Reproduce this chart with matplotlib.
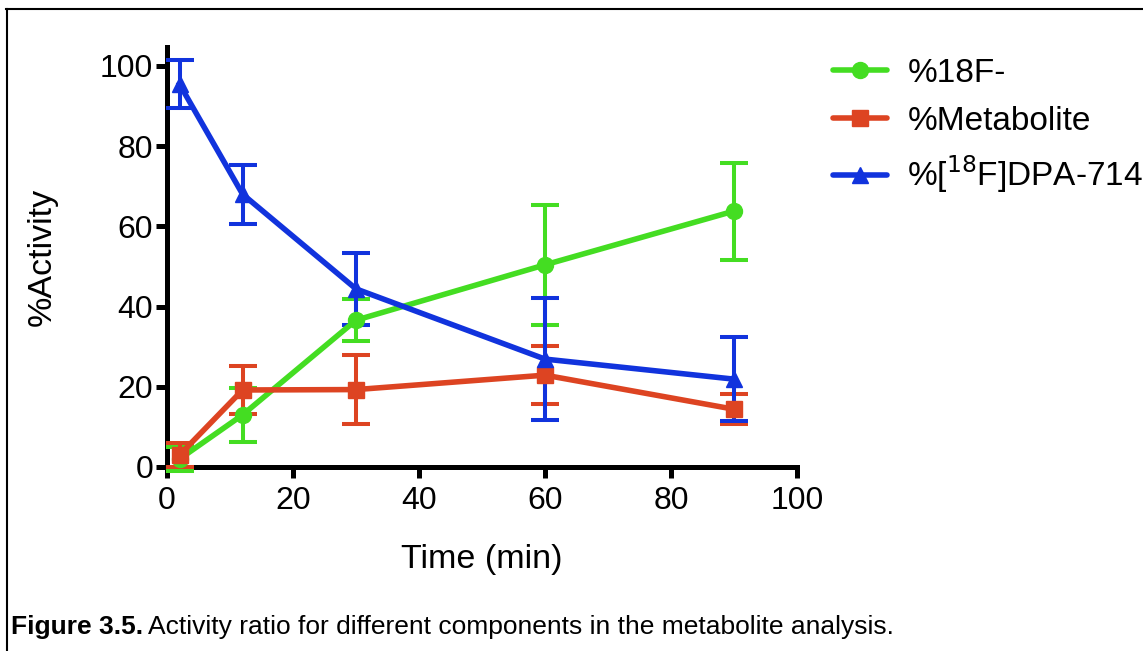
import numpy as np
import matplotlib.pyplot as plt
from matplotlib.lines import Line2D

plt.rcParams['font.family'] = ['Liberation Sans', 'DejaVu Sans']

# time points (min)
time = [2, 12, 30, 60, 90]

# %18F-
fluoride = [2.0, 13.0, 36.6, 50.4, 63.8]
fluoride_err = [3.0, 6.8, 5.3, 15.0, 12.1]

# %Metabolite
metabolite = [3.0, 19.2, 19.3, 22.9, 14.4]
metabolite_err = [3.0, 5.9, 8.7, 7.3, 3.7]

# %[18F]DPA-714
parent = [95.4, 68.0, 44.4, 26.9, 21.9]
parent_err = [6.0, 7.4, 9.0, 15.2, 10.4]

series = [
    ('%18F-', fluoride, fluoride_err, '#44dd22', 'o', 11.5),
    ('%Metabolite', metabolite, metabolite_err, '#dd4422', 's', 11),
    ('%[$^{18}$F]DPA-714', parent, parent_err, '#1133dd', '^', 12),
]

W, H = 1143, 651
fig = plt.figure(figsize=(W / 100, H / 100), dpi=100)
ax = fig.add_axes([167 / W, 1 - 467 / H, 630 / W, 420 / H])

handles = []
for label, y, err, color, marker, ms in series:
    ax.errorbar(time, y, yerr=err, color=color, marker=marker, markersize=ms,
                linewidth=4, elinewidth=2.9, capsize=10, capthick=2.9,
                clip_on=False, zorder=3)
    handles.append(Line2D([], [], color=color, marker=marker, markersize=ms,
                          linewidth=4, solid_capstyle='round', label=label))

ax.set_xlim(0, 100)
ax.set_ylim(0, 104.7)
ax.set_xticks([0, 20, 40, 60, 80, 100])
ax.set_yticks([0, 20, 40, 60, 80, 100])
for side in ['top', 'right']:
    ax.spines[side].set_visible(False)
for side in ['left', 'bottom']:
    ax.spines[side].set_linewidth(3.6)
ax.tick_params(width=3.6, length=8, labelsize=23)
ax.tick_params(axis='x', pad=6)
ax.tick_params(axis='y', pad=2)
ax.set_xlabel('Time (min)', fontsize=24.5, labelpad=20)
ax.set_ylabel('%Activity', fontsize=24.5, labelpad=30)

ax.legend(handles=handles, loc='upper left', bbox_to_anchor=(1.01, 1.045),
          frameon=False, fontsize=24, handlelength=1.6, handletextpad=0.62,
          labelspacing=0.5)

# frame lines around the figure panel
fig.add_artist(Line2D([6 / W, 1], [1 - 9 / H, 1 - 9 / H], color='black', lw=1.5))
fig.add_artist(Line2D([7 / W, 7 / W], [0, 1 - 9 / H], color='black', lw=1.5))

# caption: bold lead-in followed by plain text
cap_y = 1 - 627 / H
bold = fig.text(11 / W, cap_y, 'Figure 3.5.', fontsize=19, fontweight='bold', va='center')
fig.canvas.draw()
bb = bold.get_window_extent(fig.canvas.get_renderer())
fig.text(bb.x1 / W + 5 / W, cap_y,
         'Activity ratio for different components in the metabolite analysis.',
         fontsize=19, va='center')

plt.savefig('out.png', dpi=100)
